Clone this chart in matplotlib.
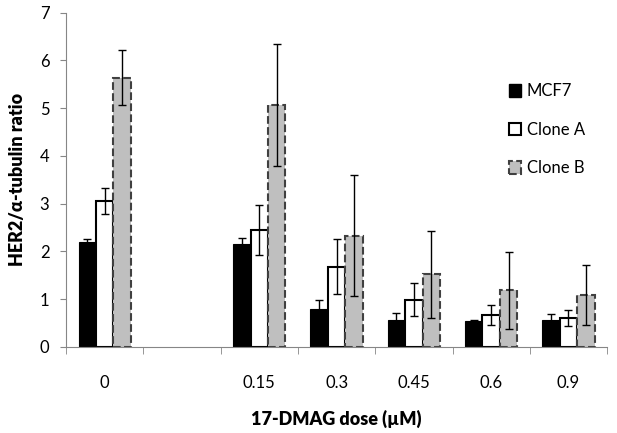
import matplotlib
matplotlib.use('Agg')
import matplotlib.pyplot as plt
import numpy as np
from matplotlib.patches import Patch

plt.rcParams['font.family'] = ['Lato', 'DejaVu Sans']

# data
doses = ['0', '', '0.15', '0.3', '0.45', '0.6', '0.9']
mcf7 = [2.19, np.nan, 2.15, 0.79, 0.57, 0.54, 0.56]
mcf7_err = [0.06, np.nan, 0.12, 0.20, 0.13, 0.02, 0.13]
clone_a = [3.05, np.nan, 2.45, 1.68, 0.99, 0.66, 0.60]
clone_a_err = [0.27, np.nan, 0.53, 0.57, 0.34, 0.21, 0.17]
clone_b = [5.64, np.nan, 5.07, 2.33, 1.52, 1.18, 1.08]
clone_b_err = [0.58, np.nan, 1.28, 1.26, 0.91, 0.80, 0.63]

fig = plt.figure(figsize=(6.17, 4.33), dpi=100)
ax = fig.add_axes([0.107, 0.199, 0.877, 0.772])

x = np.arange(len(doses)) + 0.5
w = 0.225
ekw = dict(ecolor='black', elinewidth=1, capsize=3, capthick=1)

ax.bar(x - w, mcf7, w, yerr=mcf7_err, color='black', edgecolor='black', linewidth=0.8, error_kw=ekw)
ax.bar(x, clone_a, w, yerr=clone_a_err, color='white', edgecolor='black', linewidth=1.5, error_kw=ekw)
ax.bar(x + w, clone_b, w, yerr=clone_b_err, color='#BFBFBF', edgecolor='#404040', linewidth=1.5,
       linestyle='--', error_kw=ekw)

ax.set_xlim(0, len(doses))
ax.set_ylim(0, 7)
ax.set_yticks(np.arange(0, 8, 1))
ax.set_xticks(x)
ax.set_xticklabels(doses)
ax.set_xticks(np.arange(0, len(doses) + 1), minor=True)
ax.tick_params(axis='x', which='major', length=0, pad=20, labelsize=12)
ax.tick_params(axis='x', which='minor', length=5, color='#868686', direction='out')
ax.tick_params(axis='y', length=4, color='#868686', pad=8, labelsize=12)

for s in ['top', 'right']:
    ax.spines[s].set_visible(False)
for s in ['left', 'bottom']:
    ax.spines[s].set_color('#868686')

ax.set_ylabel('HER2/α-tubulin ratio', fontsize=13, fontweight='heavy', labelpad=10)
ax.set_xlabel('17-DMAG dose (µM)', fontsize=13, fontweight='heavy', labelpad=14)

handles = [Patch(facecolor='black', edgecolor='black', label='MCF7'),
           Patch(facecolor='white', edgecolor='black', linewidth=1.5, label='Clone A'),
           Patch(facecolor='#BFBFBF', edgecolor='#404040', linewidth=1.5, linestyle='--', label='Clone B')]
fig.legend(handles=handles, loc='upper left', bbox_to_anchor=(0.80, 0.842), frameon=False,
           fontsize=12, handlelength=0.75, handleheight=0.75, handletextpad=0.35, labelspacing=1.35)

plt.savefig('out.png', dpi=100)
